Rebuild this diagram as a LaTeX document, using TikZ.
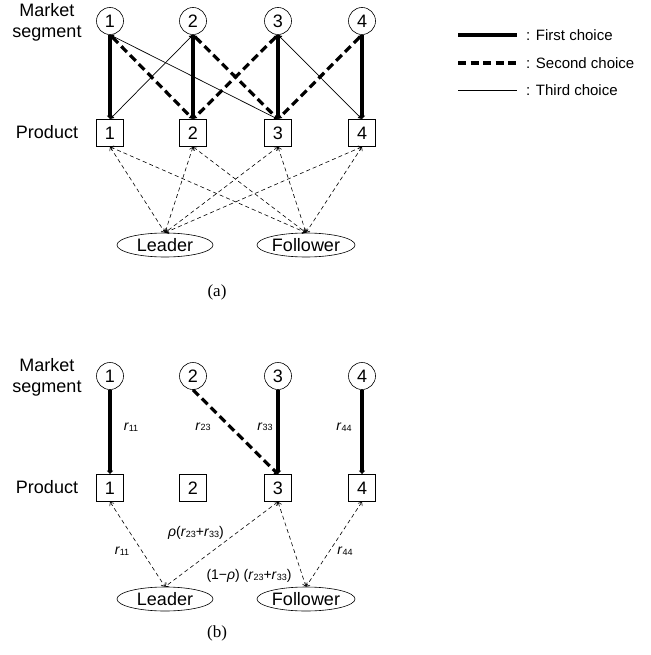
\documentclass[tikz,border=0pt]{standalone}
\usepackage{fontspec}
\setmainfont{Liberation Sans}
\newfontfamily\capfont{Liberation Serif}
\usetikzlibrary{shapes.geometric,arrows.meta}
\newcommand\rsub[1]{\textit{r}{\fontsize{9}{9}\selectfont\raisebox{-0.5pt}{#1}}}
\tikzset{
  seg/.style={circle, draw, line width=0.6pt, minimum size=27pt, inner sep=0pt, font=\fontsize{18}{18}\selectfont},
  prod/.style={rectangle, draw, line width=0.6pt, minimum size=27pt, inner sep=0pt, font=\fontsize{18}{18}\selectfont},
  firm/.style={ellipse, draw, line width=0.6pt, minimum width=96pt, minimum height=24pt, inner sep=0pt, font=\fontsize{18}{18}\selectfont},
  side/.style={font=\fontsize{18}{21}\selectfont, align=center},
  firstline/.style={line width=4.5pt},
  secondline/.style={line width=3.2pt, dash pattern=on 8pt off 4.5pt},
  thirdline/.style={line width=0.7pt},
  linkline/.style={line width=0.6pt, dash pattern=on 4pt off 3pt},
  tipend/.style={-{Latex[length=3.5pt,width=7pt]}},
  tipboth/.style={{Latex[length=4pt,width=5pt]}-{Latex[length=4pt,width=5pt]}},
  tipbarb/.style={{Straight Barb[length=3pt,width=5pt]}-{Straight Barb[length=3pt,width=5pt]}},
  lab/.style={font=\fontsize{14}{15}\selectfont, inner sep=0pt},
  legtext/.style={anchor=west, font=\fontsize{15}{16}\selectfont, inner sep=0pt},
  captext/.style={font=\capfont\fontsize{17}{19}\selectfont}
}
\begin{document}
\begin{tikzpicture}[x=1pt,y=-1pt]
\useasboundingbox (0,0) rectangle (650,655);
% ---------- (a) ----------
\node[side] (ms) at (47,22) {Market\\segment};
\node[side] (pr) at (47,132) {Product};
\foreach \i/\x in {1/110,2/193,3/278,4/362}{
  \node[seg] (s\i) at (\x,21) {\i};
  \node[prod] (p\i) at (\x,133) {\i};
}
\node[firm] (L) at (165,245) {Leader};
\node[firm,minimum width=98pt] (F) at (306,245) {Follower};
% links to firms
\foreach \i in {1,2,3,4}{
  \draw[linkline,tipbarb] (p\i.south) -- (L.north);
  \draw[linkline,tipbarb] (p\i.south) -- (F.north);
}
% third choice
\draw[thirdline,tipboth] (s1.south) -- (p3.north);
\draw[thirdline,tipboth] (s2.south) -- (p1.north);
\draw[thirdline,tipboth] (s3.south) -- (p4.north);
% second choice
\draw[secondline,tipboth] (s1.south) -- (p2.north);
\draw[secondline,tipboth] (s2.south) -- (p3.north);
\draw[secondline,tipboth] (s3.south) -- (p2.north);
\draw[secondline,tipboth] (s4.south) -- (p3.north);
% first choice
\foreach \i in {1,2,3,4}{
  \draw[firstline,tipend] (s\i.south) -- (p\i.north);
}
\node[captext] (capa) at (217,292) {(a)};
% legend
\coordinate (la1) at (458,35); \coordinate (lb1) at (517,35);
\coordinate (la2) at (458,63); \coordinate (lb2) at (517,63);
\coordinate (la3) at (458,90); \coordinate (lb3) at (517,90);
\draw[firstline] (la1) -- (lb1);
\draw[secondline] (la2) -- (lb2);
\draw[thirdline] (la3) -- (lb3);
\node[legtext] (t1) at (526,35) {: First choice};
\node[legtext] (t2) at (526,63) {: Second choice};
\node[legtext] (t3) at (526,90) {: Third choice};
% ---------- (b) ----------
\node[side] (msb) at (47,377) {Market\\segment};
\node[side] (prb) at (47,487) {Product};
\foreach \i/\x in {1/110,2/193,3/278,4/362}{
  \node[seg] (bs\i) at (\x,376) {\i};
  \node[prod] (bp\i) at (\x,488) {\i};
}
\node[firm] (bL) at (165,599) {Leader};
\node[firm,minimum width=98pt] (bF) at (306,599) {Follower};
\draw[linkline,tipbarb] (bp1.south) -- (bL.north);
\draw[linkline,tipbarb] (bp3.south) -- (bL.north);
\draw[linkline,tipbarb] (bp3.south) -- (bF.north);
\draw[linkline,tipbarb] (bp4.south) -- (bF.north);
\draw[secondline,tipend] (bs2.south) -- (bp3.north);
\draw[firstline,tipend] (bs1.south) -- (bp1.north);
\draw[firstline,tipend] (bs3.south) -- (bp3.north);
\draw[firstline,tipend] (bs4.south) -- (bp4.north);
\node[lab] (r11) at (131,427) {\rsub{11}};
\node[lab] (r23) at (203,427) {\rsub{23}};
\node[lab] (r33) at (265,427) {\rsub{33}};
\node[lab] (r44) at (344,427) {\rsub{44}};
\node[lab] (lr11) at (122,551) {\rsub{11}};
\node[lab] (lr44) at (345,551) {\rsub{44}};
\node[lab] (rho) at (196,533) {\textit{ρ}(\rsub{23}+\rsub{33})};
\node[lab] (omr) at (249,576) {(1−\textit{ρ}) (\rsub{23}+\rsub{33})};
\node[captext] (capb) at (217,633) {(b)};
\end{tikzpicture}
\end{document}
